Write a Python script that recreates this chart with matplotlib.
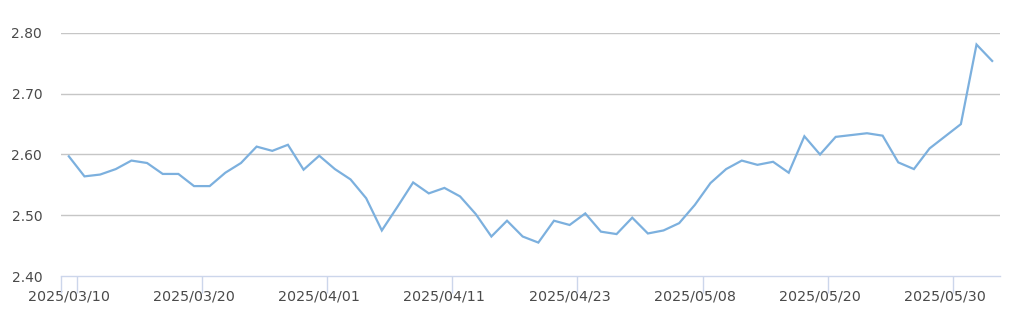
import matplotlib
matplotlib.use("Agg")
import matplotlib.pyplot as plt

# Trading days shown on the category axis
dates = [
    "2025/03/10", "2025/03/11", "2025/03/12", "2025/03/13", "2025/03/14",
    "2025/03/17", "2025/03/18", "2025/03/19", "2025/03/20", "2025/03/21",
    "2025/03/24", "2025/03/25", "2025/03/26", "2025/03/27", "2025/03/28",
    "2025/03/31", "2025/04/01", "2025/04/02", "2025/04/03", "2025/04/04",
    "2025/04/07", "2025/04/08", "2025/04/09", "2025/04/10", "2025/04/11",
    "2025/04/14", "2025/04/15", "2025/04/16", "2025/04/17", "2025/04/18",
    "2025/04/21", "2025/04/22", "2025/04/23", "2025/04/24", "2025/04/25",
    "2025/04/28", "2025/04/29", "2025/04/30", "2025/05/06", "2025/05/07",
    "2025/05/08", "2025/05/09", "2025/05/12", "2025/05/13", "2025/05/14",
    "2025/05/15", "2025/05/16", "2025/05/19", "2025/05/20", "2025/05/21",
    "2025/05/22", "2025/05/23", "2025/05/26", "2025/05/27", "2025/05/28",
    "2025/05/29", "2025/05/30", "2025/06/03", "2025/06/04", "2025/06/05",
]

values = [
    2.597, 2.564, 2.567, 2.576, 2.590, 2.586, 2.568, 2.568, 2.548, 2.548,
    2.570, 2.586, 2.613, 2.606, 2.616, 2.575, 2.598, 2.576, 2.559, 2.528,
    2.475, 2.514, 2.554, 2.536, 2.545, 2.531, 2.502, 2.465, 2.491, 2.465,
    2.455, 2.491, 2.484, 2.503, 2.473, 2.469, 2.496, 2.470, 2.475, 2.487,
    2.517, 2.553, 2.576, 2.590, 2.583, 2.588, 2.570, 2.630, 2.600, 2.629,
    2.632, 2.635, 2.631, 2.587, 2.576, 2.610, 2.630, 2.650, 2.781, 2.754,
]

y_ticks = [2.40, 2.50, 2.60, 2.70, 2.80]
label_step = 8

line_color = "#7cb0de"
grid_color = "#c6c6c6"
axis_color = "#ccd6eb"
text_color = "#4a4a4a"

fig = plt.figure(figsize=(10.14, 3.24), dpi=100)
ax = fig.add_axes([61 / 1014, 1 - 276 / 324, 939 / 1014, 243 / 324])

x = list(range(len(values)))
ax.plot(x, values, color=line_color, linewidth=1.6, solid_joinstyle="miter", zorder=3)

ax.set_xlim(-0.5, len(values) - 0.5)
ax.set_ylim(y_ticks[0], y_ticks[-1])

# horizontal grid
ax.set_yticks(y_ticks)
ax.set_yticklabels(["%.2f" % v for v in y_ticks])
for v in y_ticks[1:]:
    ax.axhline(v, color=grid_color, linewidth=1.0, zorder=1)
ax.tick_params(axis="y", length=0, pad=13.5, labelsize=10, labelcolor=text_color)

# category labels every 8th point, ticks on category boundaries
major = x[::label_step]
ax.set_xticks(major)
ax.set_xticklabels([dates[i] for i in major])
ax.set_xticks([-0.5] + [i + 0.5 for i in major], minor=True)
ax.tick_params(axis="x", which="major", length=0, pad=10, labelsize=10.3,
               labelcolor=text_color)
ax.tick_params(axis="x", which="minor", length=12, width=1.0, color=axis_color)

for s in ["top", "right", "left"]:
    ax.spines[s].set_visible(False)
ax.spines["bottom"].set_color(axis_color)
ax.spines["bottom"].set_linewidth(1.0)

fig.savefig("out.png", dpi=100)
